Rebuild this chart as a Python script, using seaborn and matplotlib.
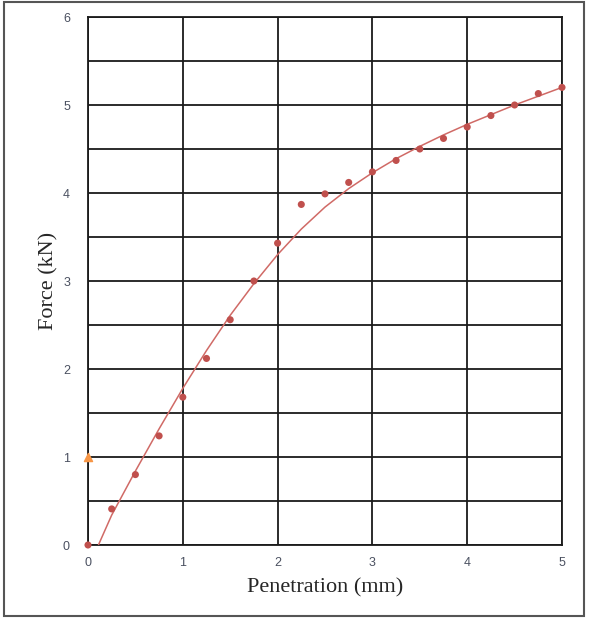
import numpy as np
import pandas as pd
import seaborn as sns
import matplotlib.pyplot as plt
import matplotlib.patches as mpatches

# measured points
penetration = [0, 0.25, 0.5, 0.75, 1.0, 1.25, 1.5, 1.75, 2.0, 2.25, 2.5,
               2.75, 3.0, 3.25, 3.5, 3.75, 4.0, 4.25, 4.5, 4.75, 5.0]
force = [0, 0.41, 0.8, 1.24, 1.68, 2.12, 2.56, 3.0, 3.43, 3.87, 3.99,
         4.12, 4.24, 4.37, 4.5, 4.62, 4.75, 4.88, 5.0, 5.13, 5.2]

# trendline
trend_x = [0.11, 0.25, 0.5, 0.75, 1.0, 1.25, 1.5, 1.75, 2.0, 2.25, 2.5,
           2.75, 3.0, 3.25, 3.5, 3.75, 4.0, 4.25, 4.5, 4.75, 5.0]
trend_y = [0, 0.34, 0.84, 1.32, 1.78, 2.21, 2.61, 2.97, 3.3, 3.59, 3.84,
           4.05, 4.23, 4.39, 4.53, 4.66, 4.78, 4.89, 5.0, 5.1, 5.2]

# extra marker
extra_x = [0]
extra_y = [1]

pts = pd.DataFrame({"x": penetration, "y": force})
trend = pd.DataFrame({"x": trend_x, "y": trend_y})

sns.set_style("white")
plt.rcParams['font.family'] = ['Liberation Serif', 'DejaVu Serif']

fig = plt.figure(figsize=(5.89, 6.18), dpi=100)
ax = fig.add_axes([88 / 589, 1 - 545 / 618, 474 / 589, 528 / 618])

sns.lineplot(data=trend, x="x", y="y", color="#d06a66", lw=1.1, ax=ax, zorder=3)
sns.scatterplot(data=pts, x="x", y="y", color="#c0504d", s=26, edgecolor="none",
                ax=ax, zorder=4, clip_on=False)
ax.scatter(extra_x, extra_y, marker="^", color="#f79646", s=34, zorder=5,
           clip_on=False)

ax.set_xlim(0, 5)
ax.set_ylim(0, 6)
ax.set_xticks(range(6))
ax.set_yticks(range(7))
ax.set_yticks(np.arange(0, 6.01, 0.5), minor=True)
ax.grid(True, which="major", color="#1a1a1a", lw=1.3)
ax.grid(True, which="minor", axis="y", color="#1a1a1a", lw=1.3)
ax.tick_params(axis="both", which="major", length=5, width=1.2, color="#1a1a1a",
               direction="out", labelsize=9, labelcolor="#4a5060")
ax.tick_params(axis="y", which="minor", length=0)
for lbl in ax.get_xticklabels() + ax.get_yticklabels():
    lbl.set_family("Liberation Sans")
ax.tick_params(axis="y", pad=8)
ax.tick_params(axis="x", pad=4)
for s in ax.spines.values():
    s.set_color("#1a1a1a")
    s.set_linewidth(1.3)

ax.set_xlabel("Penetration (mm)", fontsize=16, labelpad=6)
ax.set_ylabel("Force (kN)", fontsize=16, labelpad=3)

fig.patches.append(mpatches.Rectangle((4 / 589, 2 / 618), 580 / 589, 614 / 618,
                                      transform=fig.transFigure, fill=False,
                                      edgecolor="#555555", lw=1.5))

fig.savefig("out.png", dpi=100)
